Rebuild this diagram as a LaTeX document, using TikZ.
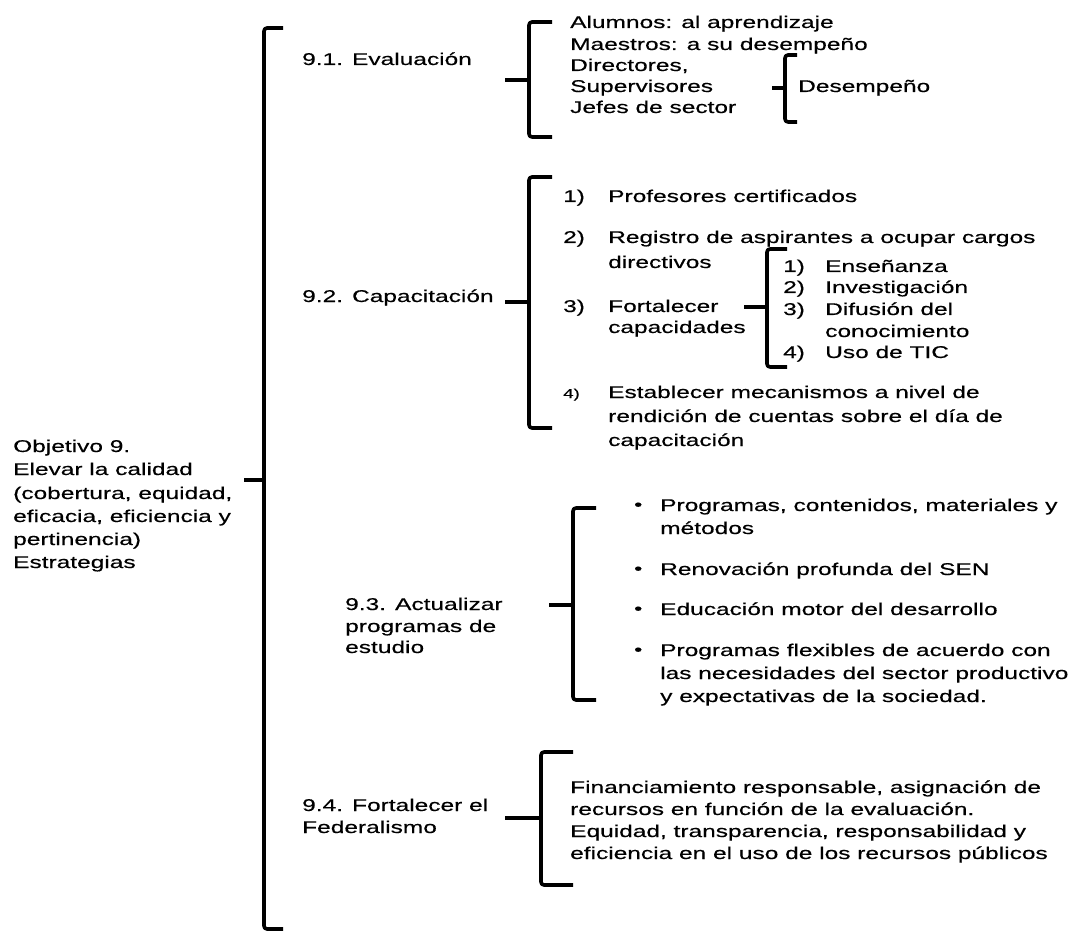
\documentclass[tikz,border=0pt]{standalone}
\usepackage{fontspec}
\setmainfont[FakeStretch=1.44,FakeBold=0.4]{Liberation Sans}
\begin{document}
\begin{tikzpicture}[x=1pt,y=-1pt,
  txt/.style={anchor=base west,inner sep=0pt,font=\fontsize{17}{21}\selectfont,text=black},
  small/.style={anchor=base west,inner sep=0pt,font=\fontsize{13}{16}\selectfont,text=black},
  dot/.style={anchor=base west,inner sep=0pt,font=\fontsize{16}{19}\selectfont,text=black},
  brace/.style={draw=black,line width=3.6pt,line join=round,rounded corners=3pt},
  tick/.style={draw=black,line width=3.6pt}]
\useasboundingbox (0,0) rectangle (1076,933);

% ---- main objective ----
\node[txt] (obj1) at (13,452) {Objetivo 9.};
\node[txt] (obj2) at (13,475) {Elevar la calidad};
\node[txt] (obj3) at (13,499) {(cobertura, equidad,};
\node[txt] (obj4) at (13,522) {eficacia, eficiencia y};
\node[txt] (obj5) at (13,545) {pertinencia)};
\node[txt] (obj6) at (13,568) {Estrategias};

% main bracket
\draw[brace] (283,28) -- (264,28) -- (264,929) -- (283,929);
\coordinate (mainTip) at (244,480);
\draw[tick] (mainTip) -- (264,480);

% ---- 9.1 ----
\node[txt] (s1) at (302,65) {9.1. Evaluación};
\draw[brace] (552,22) -- (529,22) -- (529,137) -- (552,137);
\draw[tick] (505,80) -- (529,80);
\node[txt] (e1) at (570,28) {Alumnos: al aprendizaje};
\node[txt] (e2) at (570,50) {Maestros: a su desempeño};
\node[txt] (e3) at (570,71) {Directores,};
\node[txt] (e4) at (570,92) {Supervisores};
\node[txt] (e5) at (570,113) {Jefes de sector};
\draw[brace] (797,55) -- (785,55) -- (785,122) -- (797,122);
\draw[tick] (772,88) -- (785,88);
\node[txt] (des) at (798,92) {Desempeño};

% ---- 9.2 ----
\node[txt] (s2) at (302,302) {9.2. Capacitación};
\draw[brace] (552,177) -- (529,177) -- (529,428) -- (552,428);
\draw[tick] (505,302) -- (529,302);
\node[txt] (c1n) at (563,202) {1)};
\node[txt] (c1) at (608,202) {Profesores certificados};
\node[txt] (c2n) at (563,243) {2)};
\node[txt] (c2) at (608,243) {Registro de aspirantes a ocupar cargos};
\node[txt] (c2b) at (608,268) {directivos};
\node[txt] (c3n) at (563,312) {3)};
\node[txt] (c3) at (608,312) {Fortalecer};
\node[txt] (c3b) at (608,333) {capacidades};
\draw[brace] (787,249) -- (767,249) -- (767,367) -- (787,367);
\draw[tick] (744,307) -- (767,307);
\node[txt] (f1n) at (783,272) {1)};
\node[txt] (f1) at (825,272) {Enseñanza};
\node[txt] (f2n) at (783,293) {2)};
\node[txt] (f2) at (825,293) {Investigación};
\node[txt] (f3n) at (783,315) {3)};
\node[txt] (f3) at (825,315) {Difusión del};
\node[txt] (f3b) at (825,337) {conocimiento};
\node[txt] (f4n) at (783,358) {4)};
\node[txt] (f4) at (825,358) {Uso de TIC};
\node[small] (c4n) at (563,398) {4)};
\node[txt] (c4) at (608,398) {Establecer mecanismos a nivel de};
\node[txt] (c4b) at (608,422) {rendición de cuentas sobre el día de};
\node[txt] (c4c) at (608,446) {capacitación};

% ---- 9.3 ----
\node[txt] (s3a) at (345,610) {9.3. Actualizar};
\node[txt] (s3b) at (345,632) {programas de};
\node[txt] (s3c) at (345,653) {estudio};
\draw[brace] (596,508) -- (573,508) -- (573,700) -- (596,700);
\draw[tick] (549,605) -- (573,605);
\node[dot] (p1d) at (634,510) {•};
\node[txt] (p1) at (660,511) {Programas, contenidos, materiales y};
\node[txt] (p1b) at (660,534) {métodos};
\node[dot] (p2d) at (634,574) {•};
\node[txt] (p2) at (660,575) {Renovación profunda del SEN};
\node[dot] (p3d) at (634,614) {•};
\node[txt] (p3) at (660,615) {Educación motor del desarrollo};
\node[dot] (p4d) at (634,655) {•};
\node[txt] (p4) at (660,656) {Programas flexibles de acuerdo con};
\node[txt] (p4b) at (660,679) {las necesidades del sector productivo};
\node[txt] (p4c) at (660,702) {y expectativas de la sociedad.};

% ---- 9.4 ----
\node[txt] (s4a) at (302,811) {9.4. Fortalecer el};
\node[txt] (s4b) at (302,833) {Federalismo};
\draw[brace] (573,752) -- (541,752) -- (541,885) -- (573,885);
\draw[tick] (505,818) -- (541,818);
\node[txt] (g1) at (570,793) {Financiamiento responsable, asignación de};
\node[txt] (g2) at (570,815) {recursos en función de la evaluación.};
\node[txt] (g3) at (570,837) {Equidad, transparencia, responsabilidad y};
\node[txt] (g4) at (570,859) {eficiencia en el uso de los recursos públicos};
\end{tikzpicture}
\end{document}
